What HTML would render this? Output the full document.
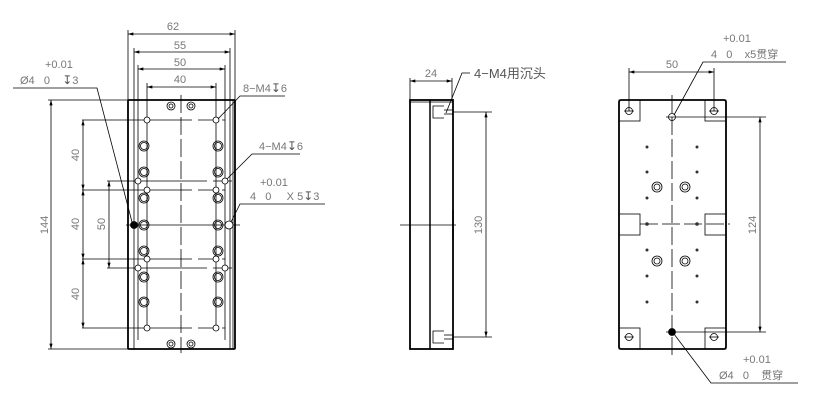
<!DOCTYPE html>
<html><head><meta charset="utf-8"><style>
html,body{margin:0;padding:0;background:#fff;width:818px;height:418px;overflow:hidden}
text{font-family:"Liberation Sans","Noto Sans CJK SC",sans-serif;font-size:11px;fill:#777;white-space:pre}
.k{fill:#555}
.s{font-family:"DejaVu Sans",sans-serif;font-size:12px;fill:#555}
</style></head><body>
<svg width="818" height="418" viewBox="0 0 818 418" xmlns="http://www.w3.org/2000/svg" xml:space="preserve">
<defs>
<marker id="a" viewBox="0 0 10 6" refX="10" refY="3" markerWidth="8" markerHeight="4" orient="auto-start-reverse"><path d="M0,0L10,3L0,6z" fill="#000"/></marker>
</defs>
<g stroke="#000" stroke-width="0.8" fill="none">
<rect x="128" y="100" width="107" height="249" stroke-width="1.8" rx="1"/>
<line x1="233" y1="100" x2="233" y2="349"/>
<line x1="128" y1="30" x2="128" y2="100"/><line x1="235" y1="30" x2="235" y2="100"/>
<line x1="134" y1="48" x2="134" y2="349"/><line x1="230" y1="48" x2="230" y2="349"/>
<line x1="138" y1="65" x2="138" y2="340"/><line x1="225" y1="65" x2="225" y2="340"/>
<line x1="147" y1="83" x2="147" y2="330"/><line x1="216" y1="83" x2="216" y2="330"/>
<line x1="128" y1="34" x2="235" y2="34" marker-start="url(#a)" marker-end="url(#a)"/>
<line x1="134" y1="52" x2="230" y2="52" marker-start="url(#a)" marker-end="url(#a)"/>
<line x1="138" y1="69" x2="225" y2="69" marker-start="url(#a)" marker-end="url(#a)"/>
<line x1="147" y1="87" x2="216" y2="87" marker-start="url(#a)" marker-end="url(#a)"/>
<line x1="181" y1="95" x2="181" y2="353" stroke-dasharray="18,4"/>
<line x1="82" y1="120" x2="225" y2="120" stroke-dasharray="110,6,20,4"/>
<line x1="82" y1="190" x2="225" y2="190" stroke-dasharray="110,6,20,4"/>
<line x1="82" y1="259" x2="225" y2="259" stroke-dasharray="110,6,20,4"/>
<line x1="82" y1="328" x2="225" y2="328" stroke-dasharray="110,6,20,4"/>
<line x1="107" y1="181" x2="232" y2="181" stroke-dasharray="100,6,20,4"/>
<line x1="107" y1="268" x2="232" y2="268" stroke-dasharray="100,6,20,4"/>
<line x1="126" y1="225" x2="240" y2="225"/>
<line x1="48" y1="100" x2="128" y2="100"/><line x1="48" y1="349" x2="128" y2="349"/>
<line x1="51" y1="100" x2="51" y2="349" marker-start="url(#a)" marker-end="url(#a)"/>
<line x1="83" y1="120" x2="83" y2="190" marker-start="url(#a)" marker-end="url(#a)"/>
<line x1="83" y1="190" x2="83" y2="259" marker-start="url(#a)" marker-end="url(#a)"/>
<line x1="83" y1="259" x2="83" y2="328" marker-start="url(#a)" marker-end="url(#a)"/>
<line x1="109" y1="181" x2="109" y2="268" marker-start="url(#a)" marker-end="url(#a)"/>
<g fill="#fff">
<circle cx="147" cy="120" r="3"/><circle cx="216" cy="120" r="3"/>
<circle cx="147" cy="190" r="3"/><circle cx="216" cy="190" r="3"/>
<circle cx="147" cy="259" r="3"/><circle cx="216" cy="259" r="3"/>
<circle cx="147" cy="328" r="3"/><circle cx="216" cy="328" r="3"/>
<circle cx="138" cy="181" r="3"/><circle cx="225" cy="181" r="3"/>
<circle cx="138" cy="268" r="3"/><circle cx="225" cy="268" r="3"/>
<circle cx="229" cy="225" r="4"/>
</g>
<circle cx="134" cy="225" r="3.5" fill="#000"/>
<g>
<circle cx="144" cy="146" r="5"/><circle cx="144" cy="146" r="3.5"/><circle cx="218" cy="146" r="5"/><circle cx="218" cy="146" r="3.5"/>
<circle cx="144" cy="172" r="5"/><circle cx="144" cy="172" r="3.5"/><circle cx="218" cy="172" r="5"/><circle cx="218" cy="172" r="3.5"/>
<circle cx="144" cy="198" r="5"/><circle cx="144" cy="198" r="3.5"/><circle cx="218" cy="198" r="5"/><circle cx="218" cy="198" r="3.5"/>
<circle cx="144" cy="225" r="5"/><circle cx="144" cy="225" r="3.5"/><circle cx="218" cy="225" r="5"/><circle cx="218" cy="225" r="3.5"/>
<circle cx="144" cy="251" r="5"/><circle cx="144" cy="251" r="3.5"/><circle cx="218" cy="251" r="5"/><circle cx="218" cy="251" r="3.5"/>
<circle cx="144" cy="277" r="5"/><circle cx="144" cy="277" r="3.5"/><circle cx="218" cy="277" r="5"/><circle cx="218" cy="277" r="3.5"/>
<circle cx="144" cy="302" r="5"/><circle cx="144" cy="302" r="3.5"/><circle cx="218" cy="302" r="5"/><circle cx="218" cy="302" r="3.5"/>
<circle cx="171" cy="106" r="4"/><circle cx="171" cy="106" r="2"/><circle cx="191" cy="106" r="4"/><circle cx="191" cy="106" r="2"/>
<circle cx="171" cy="344" r="4"/><circle cx="171" cy="344" r="2"/><circle cx="191" cy="344" r="4"/><circle cx="191" cy="344" r="2"/>
</g>
<polyline points="13,88 97,88 132,222"/>
<polyline points="285,96 240,96 218,119"/>
<polyline points="300,154 252,154 227,179"/>
<polyline points="325,204 240,204 231,222"/>

<rect x="410" y="100" width="43" height="249" stroke-width="1.8"/>
<line x1="430" y1="100" x2="430" y2="349" stroke-width="1.5"/>
<line x1="410" y1="102" x2="453" y2="102"/>
<line x1="410" y1="78" x2="410" y2="100"/><line x1="452" y1="78" x2="452" y2="100"/>
<line x1="410" y1="81" x2="452" y2="81" marker-start="url(#a)" marker-end="url(#a)"/>
<polyline points="470,73 462,73 446,113"/>
<line x1="453" y1="112" x2="492" y2="112"/><line x1="453" y1="337" x2="492" y2="337"/>
<line x1="486" y1="112" x2="486" y2="337" marker-start="url(#a)" marker-end="url(#a)"/>
<line x1="400" y1="225" x2="456" y2="225"/>
<line x1="453" y1="210" x2="453" y2="240" stroke-width="1.5"/>
<polyline points="444,106 433,106 433,118 444,118"/><line x1="444" y1="110" x2="453" y2="110"/><line x1="444" y1="114" x2="453" y2="114"/>
<polyline points="444,331 433,331 433,343 444,343"/><line x1="444" y1="335" x2="453" y2="335"/><line x1="444" y1="339" x2="453" y2="339"/>

<rect x="619" y="100" width="107" height="249" stroke-width="1.8" rx="2"/>
<rect x="619" y="100" width="21" height="21"/><rect x="705" y="100" width="21" height="21"/>
<rect x="619" y="328" width="21" height="21"/><rect x="705" y="328" width="21" height="21"/>
<rect x="619" y="214" width="21" height="21"/><rect x="705" y="214" width="21" height="21"/>
<g fill="#fff">
<circle cx="629" cy="111" r="3.5"/><circle cx="714" cy="111" r="3.5"/>
<circle cx="629" cy="337" r="3.5"/><circle cx="714" cy="337" r="3.5"/>
<circle cx="672" cy="117" r="3.5"/>
</g>
<line x1="624" y1="111" x2="634" y2="111"/><line x1="709" y1="111" x2="719" y2="111"/>
<line x1="624" y1="337" x2="634" y2="337"/><line x1="709" y1="337" x2="719" y2="337"/>
<circle cx="672" cy="332" r="3.5" fill="#000"/>
<line x1="672" y1="95" x2="672" y2="355" stroke-dasharray="18,4"/>
<line x1="640" y1="224" x2="730" y2="224" stroke-dasharray="18,4"/>
<line x1="629" y1="68" x2="629" y2="111"/><line x1="714" y1="68" x2="714" y2="111"/>
<line x1="629" y1="72" x2="714" y2="72" marker-start="url(#a)" marker-end="url(#a)"/>
<line x1="666" y1="117" x2="766" y2="117"/><line x1="666" y1="332" x2="766" y2="332"/>
<line x1="760" y1="117" x2="760" y2="332" marker-start="url(#a)" marker-end="url(#a)"/>
<g>
<circle cx="657" cy="187" r="5"/><circle cx="657" cy="187" r="3"/><circle cx="685" cy="187" r="5"/><circle cx="685" cy="187" r="3"/>
<circle cx="657" cy="261" r="5"/><circle cx="657" cy="261" r="3"/><circle cx="685" cy="261" r="5"/><circle cx="685" cy="261" r="3"/>
</g>
<polyline points="786,62 703,62 674,115"/>
<polyline points="798,383 711,383 674,334"/>
</g>
<g fill="#333">
<circle cx="647" cy="147" r="1.5"/><circle cx="697" cy="147" r="1.5"/>
<circle cx="647" cy="172" r="1.5"/><circle cx="697" cy="172" r="1.5"/>
<circle cx="647" cy="198" r="1.5"/><circle cx="697" cy="198" r="1.5"/>
<circle cx="647" cy="224" r="1.8"/><circle cx="697" cy="224" r="1.8"/>
<circle cx="647" cy="250" r="1.5"/><circle cx="697" cy="250" r="1.5"/>
<circle cx="647" cy="276" r="1.5"/><circle cx="697" cy="276" r="1.5"/>
<circle cx="647" cy="302" r="1.5"/><circle cx="697" cy="302" r="1.5"/>
</g>
<text x="173" y="30" text-anchor="middle">62</text>
<text x="180" y="49" text-anchor="middle">55</text>
<text x="180" y="66" text-anchor="middle">50</text>
<text x="180" y="83" text-anchor="middle">40</text>
<text x="45" y="68">+0.01</text>
<text x="20" y="84">Ø4   0    <tspan class="s">↧</tspan>3</text>
<text x="243" y="92">8−M4<tspan class="s">↧</tspan>6</text>
<text x="259" y="150">4−M4<tspan class="s">↧</tspan>6</text>
<text x="260" y="186">+0.01</text>
<text x="250" y="200">4   0     X 5<tspan class="s">↧</tspan>3</text>
<text transform="translate(48,225) rotate(-90)" text-anchor="middle">144</text>
<text transform="translate(79,155) rotate(-90)" text-anchor="middle">40</text>
<text transform="translate(79,224) rotate(-90)" text-anchor="middle">40</text>
<text transform="translate(79,294) rotate(-90)" text-anchor="middle">40</text>
<text transform="translate(105,224) rotate(-90)" text-anchor="middle">50</text>
<text x="431" y="77" text-anchor="middle">24</text>
<text x="474" y="78" class="k" style="font-size:13px">4−M4用沉头</text>
<text transform="translate(482,225) rotate(-90)" text-anchor="middle">130</text>
<text x="672" y="68" text-anchor="middle">50</text>
<text x="723" y="42">+0.01</text>
<text x="711" y="58">4   0    x5贯穿</text>
<text transform="translate(756,225) rotate(-90)" text-anchor="middle">124</text>
<text x="743" y="363">+0.01</text>
<text x="719" y="379">Ø4   0    贯穿</text>
</svg>
</body></html>
